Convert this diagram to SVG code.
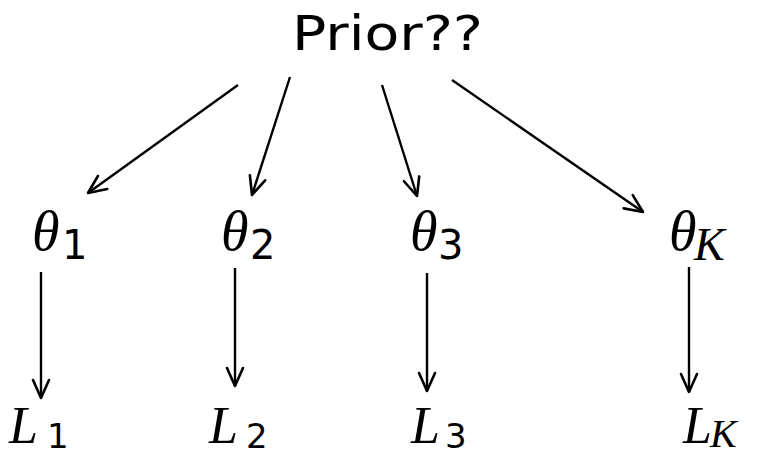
<svg xmlns="http://www.w3.org/2000/svg" width="763" height="457" viewBox="0 0 763 457">
<style>
.v{font-family:"Liberation Serif","Times New Roman",serif;font-style:italic;fill:#000}
.s{font-family:"DejaVu Sans","Liberation Sans",sans-serif;fill:#000}
.e{stroke:#000;stroke-width:2.4;fill:none;marker-end:url(#ah)}
</style>
<defs>
<marker id="ah" viewBox="0 0 24 20" markerWidth="24" markerHeight="20" refX="21" refY="10" orient="auto" markerUnits="userSpaceOnUse">
<path d="M3,2 L21,10 L3,18" fill="none" stroke="#000" stroke-width="2.6" stroke-linecap="round" stroke-linejoin="round"/>
</marker>
</defs>
<rect width="763" height="457" fill="#fff"/>
<g id="prior"><text x="292" y="50" class="s" font-size="48" textLength="191" lengthAdjust="spacingAndGlyphs">Prior??</text></g>
<g id="theta1"><text x="32" y="250" class="v" font-size="56">θ</text><text x="62" y="259" class="s" font-size="40">1</text></g>
<g id="theta2"><text x="221" y="250" class="v" font-size="56">θ</text><text x="250" y="259" class="s" font-size="40">2</text></g>
<g id="theta3"><text x="410" y="250" class="v" font-size="56">θ</text><text x="438" y="259" class="s" font-size="40">3</text></g>
<g id="thetaK"><text x="669" y="250" class="v" font-size="56">θ</text><text x="694" y="260" class="v" font-size="46">K</text></g>
<g id="L1"><text x="9" y="443" class="v" font-size="52">L</text><text x="47" y="448" class="s" font-size="34">1</text></g>
<g id="L2"><text x="209" y="443" class="v" font-size="52">L</text><text x="246" y="448" class="s" font-size="34">2</text></g>
<g id="L3"><text x="411" y="443" class="v" font-size="52">L</text><text x="445" y="448" class="s" font-size="34">3</text></g>
<g id="LK"><text x="683" y="443" class="v" font-size="52">L</text><text x="710" y="447" class="v" font-size="40">K</text></g>
<g id="connectors">
<line class="e" x1="238" y1="85" x2="88" y2="193"/>
<line class="e" x1="290" y1="77" x2="252" y2="195"/>
<line class="e" x1="382" y1="85" x2="417" y2="196"/>
<line class="e" x1="452" y1="80" x2="643" y2="212"/>
<line class="e" x1="41" y1="272" x2="41" y2="398"/>
<line class="e" x1="235" y1="268" x2="235" y2="386"/>
<line class="e" x1="427" y1="273" x2="427" y2="391"/>
<line class="e" x1="689" y1="267" x2="689" y2="392"/>
</g>
</svg>
